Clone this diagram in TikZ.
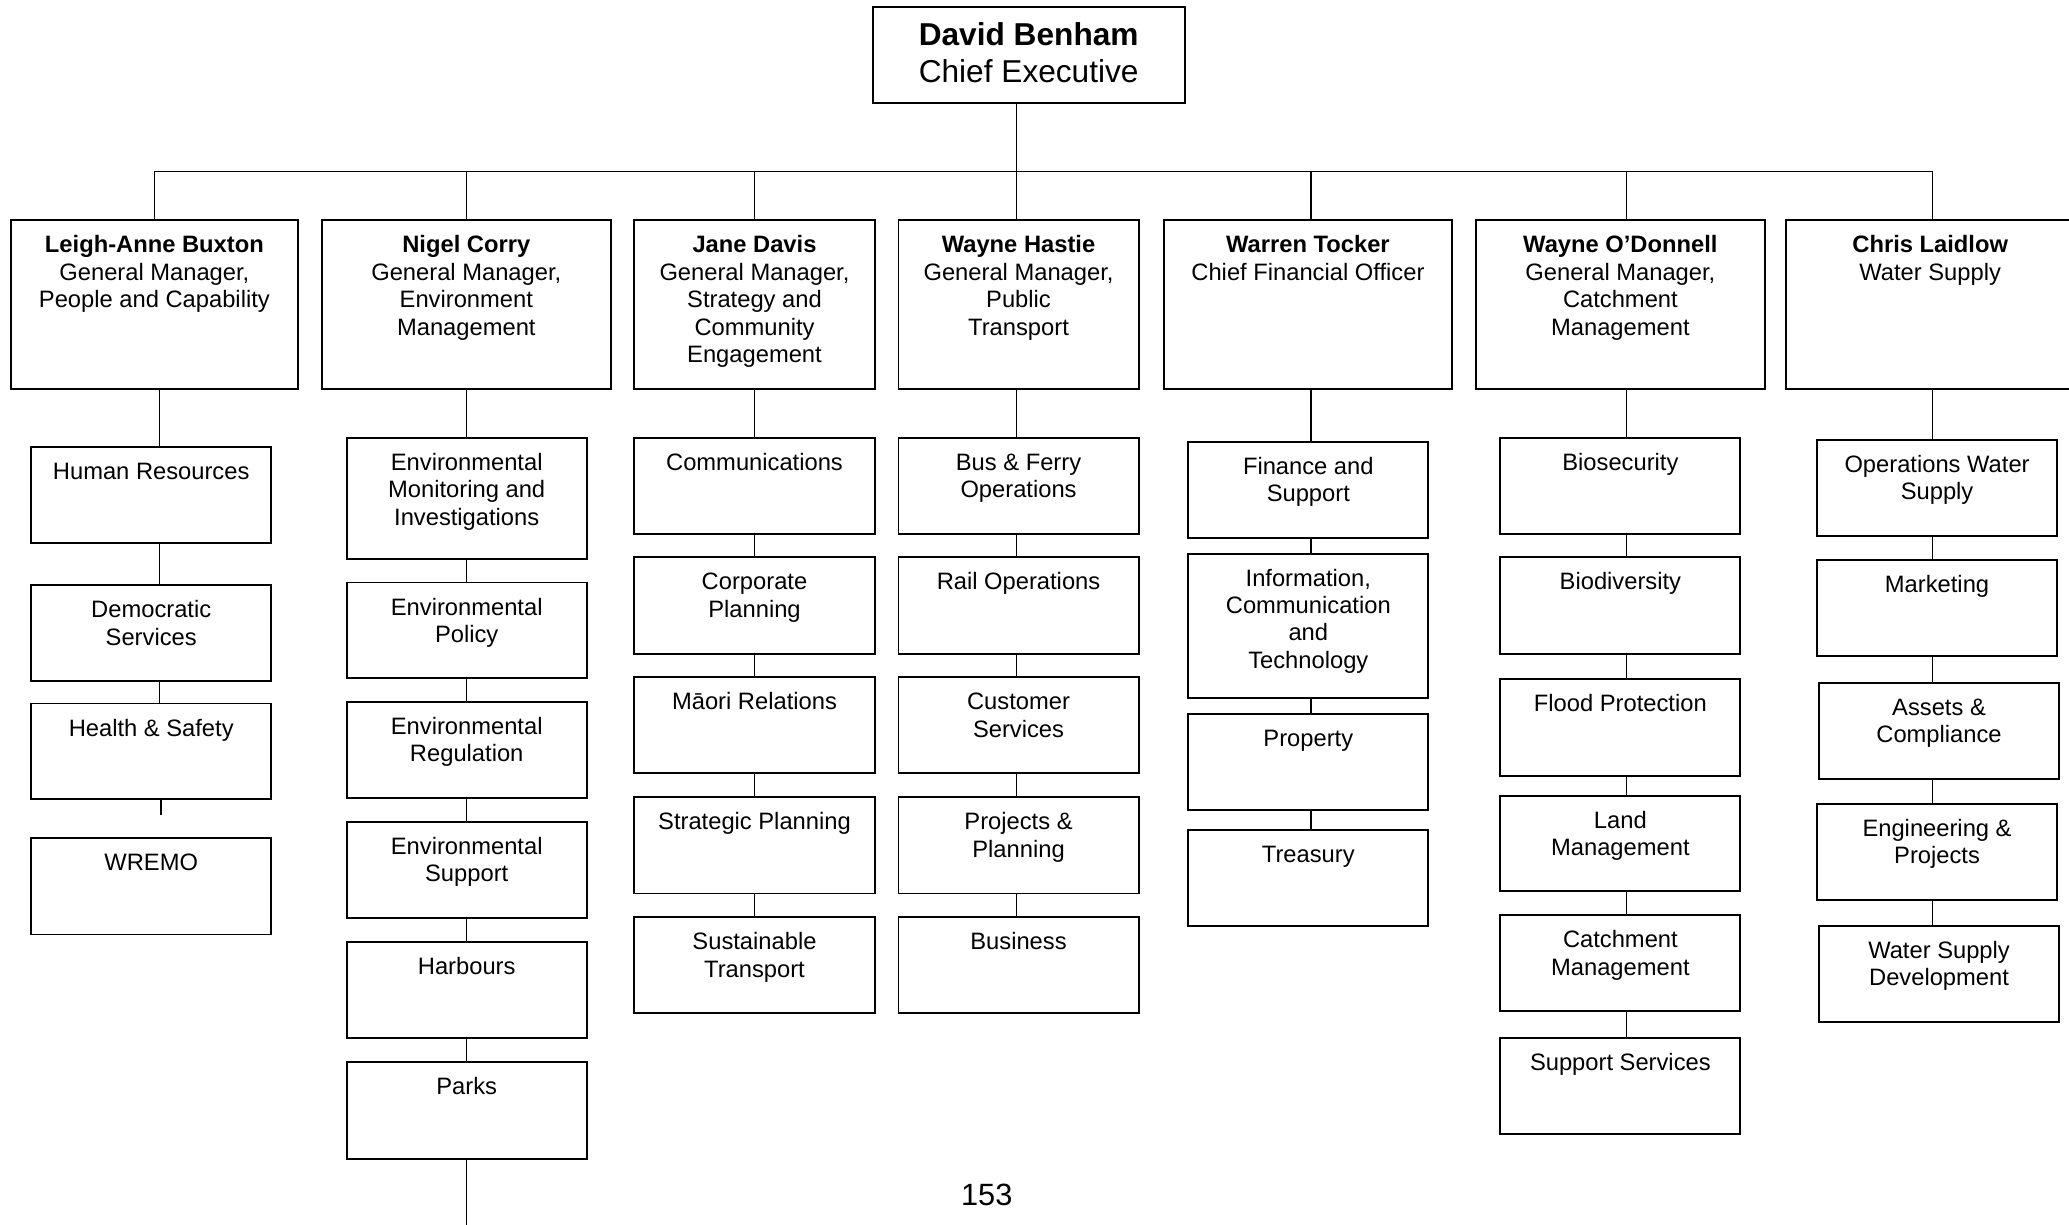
\documentclass[tikz,border=0pt]{standalone}
\usepackage{fontspec}
\setmainfont{Liberation Sans}
\newlength{\pxu}
\setlength{\pxu}{0.02639cm}
\newcommand{\boxlines}[3]{\parbox[t][#2\pxu][t]{#1\pxu}{\centering\rule{0pt}{18.5pt}#3}}
\tikzset{
  ceo/.style={draw, line width=1.1pt, anchor=north, inner sep=0pt, align=center,
    minimum width=236.6\pxu, minimum height=72.5\pxu, font=\fontsize{18}{21}\selectfont},
  gm/.style={draw, line width=1.1pt, anchor=north, inner sep=0pt, font=\fontsize{13.5}{15.6}\selectfont},
  dept/.style={gm},
  link/.style={line width=.75pt}
}
\begin{document}
\begin{tikzpicture}[x=0.02639cm,y=-0.02639cm]
\useasboundingbox (0,0) rectangle (1568,928);
\node[ceo] (ceo) at (779.6,4.5) {\textbf{David Benham}\\Chief Executive\rule[-3pt]{0pt}{1pt}};
\node[gm] (gm1) at (117,166.2) {\boxlines{218}{127.6}{\textbf{Leigh-Anne Buxton}\\General Manager,\\People and Capability}};
\node[gm] (gm2) at (353.4,166.2) {\boxlines{218.6}{127.6}{\textbf{Nigel Corry}\\General Manager,\\Environment\\Management}};
\node[gm] (gm3) at (571.8,166.2) {\boxlines{182}{127.6}{\textbf{Jane Davis}\\General Manager,\\Strategy and\\Community\\Engagement}};
\node[gm] (gm4) at (771.9,166.2) {\boxlines{182}{127.6}{\textbf{Wayne Hastie}\\General Manager,\\Public\\Transport}};
\node[gm] (gm5) at (991.2,166.2) {\boxlines{218.5}{127.6}{\textbf{Warren Tocker}\\Chief Financial Officer}};
\node[gm] (gm6) at (1228,166.2) {\boxlines{219}{127.6}{\textbf{Wayne O’Donnell}\\General Manager,\\Catchment\\Management}};
\node[gm] (gm7) at (1462.8,166.2) {\boxlines{218}{127.6}{\textbf{Chris Laidlow}\\Water Supply}};
\node[dept] (hr) at (114.6,337.8) {\boxlines{182}{73}{Human Resources}};
\node[dept] (dem) at (114.6,442.7) {\boxlines{182}{72.6}{Democratic\\Services}};
\node[dept] (hs) at (114.6,532.4) {\boxlines{182}{72.6}{Health \& Safety}};
\node[dept] (wremo) at (114.6,634.5) {\boxlines{182}{73}{WREMO}};
\node[dept] (emi) at (353.7,331) {\boxlines{182}{91.7}{Environmental\\Monitoring and\\Investigations}};
\node[dept] (ep) at (353.7,440.7) {\boxlines{182}{72.6}{Environmental\\Policy}};
\node[dept] (er) at (353.7,531.3) {\boxlines{182}{72.9}{Environmental\\Regulation}};
\node[dept] (es) at (353.7,622.1) {\boxlines{182}{73}{Environmental\\Support}};
\node[dept] (harb) at (353.7,713.1) {\boxlines{182}{73}{Harbours}};
\node[dept] (parks) at (353.7,804.4) {\boxlines{182}{73.4}{Parks}};
\node[dept] (comms) at (571.8,331) {\boxlines{182}{73}{Communications}};
\node[dept] (corp) at (571.8,421.6) {\boxlines{182}{73.4}{Corporate\\Planning}};
\node[dept] (maori) at (571.8,512.5) {\boxlines{182}{72.9}{Māori Relations}};
\node[dept] (strat) at (571.8,603.4) {\boxlines{182}{73}{Strategic Planning}};
\node[dept] (sust) at (571.8,694.4) {\boxlines{182}{72.9}{Sustainable\\Transport}};
\node[dept] (ferry) at (771.9,331) {\boxlines{182}{73}{Bus \& Ferry\\Operations}};
\node[dept] (rail) at (771.9,421.6) {\boxlines{182}{73.4}{Rail Operations}};
\node[dept] (cust) at (771.9,512.5) {\boxlines{182}{72.9}{Customer\\Services}};
\node[dept] (proj) at (771.9,603.4) {\boxlines{182}{73}{Projects \&\\Planning}};
\node[dept] (biz) at (771.9,694.4) {\boxlines{182}{72.9}{Business}};
\node[dept] (fin) at (991.5,334.2) {\boxlines{182}{73}{Finance and\\Support}};
\node[dept] (ict) at (991.5,418.8) {\boxlines{182}{109.3}{Information,\\Communication\\and\\Technology}};
\node[dept] (prop) at (991.5,540.4) {\boxlines{182}{72.6}{Property}};
\node[dept] (treas) at (991.5,628.1) {\boxlines{182}{73}{Treasury}};
\node[dept] (biosec) at (1228,331) {\boxlines{182}{73}{Biosecurity}};
\node[dept] (biodiv) at (1228,421.6) {\boxlines{182}{73.4}{Biodiversity}};
\node[dept] (flood) at (1228,514) {\boxlines{182}{73.4}{Flood Protection}};
\node[dept] (land) at (1228,602.2) {\boxlines{182}{72.6}{Land\\Management}};
\node[dept] (catch) at (1228,692.8) {\boxlines{182}{72.5}{Catchment\\Management}};
\node[dept] (supp) at (1228,786) {\boxlines{182}{72.6}{Support Services}};
\node[dept] (ows) at (1468,332.7) {\boxlines{182}{72.9}{Operations Water\\Supply}};
\node[dept] (mkt) at (1468,423.6) {\boxlines{182}{72.9}{Marketing}};
\node[dept] (assets) at (1469.5,516.9) {\boxlines{182}{72.9}{Assets \&\\Compliance}};
\node[dept] (eng) at (1468,608.6) {\boxlines{182}{72.9}{Engineering \&\\Projects}};
\node[dept] (wsd) at (1469.5,700.7) {\boxlines{182}{73}{Water Supply\\Development}};
\node[font=\fontsize{17.5}{20}\selectfont] (pg) at (747.8,905.3) {153};
\coordinate (trunk) at (0,130.1);
\coordinate (s1) at (121,0);
\coordinate (s2) at (353.7,0);
\coordinate (s3) at (571.8,0);
\coordinate (s4) at (770.4,0);
\coordinate (s5) at (993.5,0);
\coordinate (s6) at (1232.6,0);
\coordinate (s7) at (1464.7,0);
\coordinate (stub) at (122,617.3);
\coordinate (tail) at (353.7,935);
\draw[link] (ceo.south -| s4)--(gm4.north -| s4);
\draw[link] (trunk -| gm1.north)--(trunk -| s7);
\draw[link] (trunk -| gm1.north)--(gm1.north)
  (trunk -| s2)--(gm2.north -| s2) (trunk -| s3)--(gm3.north -| s3)
  (trunk -| s5)--(gm5.north -| s5) (trunk -| s6)--(gm6.north -| s6)
  (trunk -| s7)--(gm7.north -| s7);
\draw[link] (gm1.south -| s1)--(hr.north -| s1) (hr.south -| s1)--(dem.north -| s1)
  (dem.south -| s1)--(hs.north -| s1) (hs.south -| stub)--(stub);
\draw[link] (gm2.south -| s2)--(emi.north -| s2) (emi.south -| s2)--(ep.north -| s2)
  (ep.south -| s2)--(er.north -| s2) (er.south -| s2)--(es.north -| s2)
  (es.south -| s2)--(harb.north -| s2) (harb.south -| s2)--(parks.north -| s2)
  (parks.south -| s2)--(tail);
\draw[link] (gm3.south -| s3)--(comms.north -| s3) (comms.south -| s3)--(corp.north -| s3)
  (corp.south -| s3)--(maori.north -| s3) (maori.south -| s3)--(strat.north -| s3)
  (strat.south -| s3)--(sust.north -| s3);
\draw[link] (gm4.south -| s4)--(ferry.north -| s4) (ferry.south -| s4)--(rail.north -| s4)
  (rail.south -| s4)--(cust.north -| s4) (cust.south -| s4)--(proj.north -| s4)
  (proj.south -| s4)--(biz.north -| s4);
\draw[link] (gm5.south -| s5)--(fin.north -| s5) (fin.south -| s5)--(ict.north -| s5)
  (ict.south -| s5)--(prop.north -| s5) (prop.south -| s5)--(treas.north -| s5);
\draw[link] (gm6.south -| s6)--(biosec.north -| s6) (biosec.south -| s6)--(biodiv.north -| s6)
  (biodiv.south -| s6)--(flood.north -| s6) (flood.south -| s6)--(land.north -| s6)
  (land.south -| s6)--(catch.north -| s6) (catch.south -| s6)--(supp.north -| s6);
\draw[link] (gm7.south -| s7)--(ows.north -| s7) (ows.south -| s7)--(mkt.north -| s7)
  (mkt.south -| s7)--(assets.north -| s7) (assets.south -| s7)--(eng.north -| s7)
  (eng.south -| s7)--(wsd.north -| s7);
\end{tikzpicture}
\end{document}
